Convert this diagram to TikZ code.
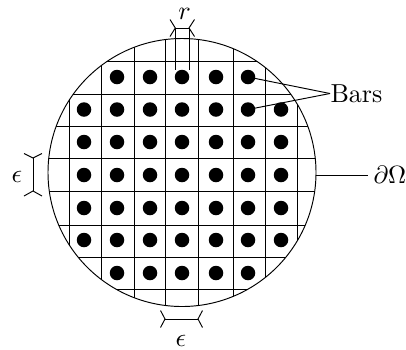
\documentclass[tikz,border=0pt]{standalone}
\tikzset{
  x=1pt,y=-1pt,
  thin line/.style={line width=0.95pt,black},
  bar/.style={circle,fill=black,inner sep=0pt,minimum size=14.5pt},
  lab/.style={inner sep=0pt,scale=2.5,text=black},
  biglab/.style={inner sep=0pt,scale=2.6,text=black},
}
\begin{document}
\begin{tikzpicture}
\useasboundingbox (0,0) rectangle (406,349);
\coordinate (c) at (182,172.5);
\begin{scope}
\clip (c) circle (134);
\foreach \x in {69,101,134,165.5,198,233,265.5,297.7}
  \draw[thin line] (\x,30) -- (\x,315);
\foreach \y in {61,94,126,158,191,225,257,289}
  \draw[thin line] (40,\y) -- (325,\y);
\end{scope}
\node[circle,draw,line width=0.95pt,inner sep=0pt,minimum size=268pt] (dom) at (c) {};
\foreach \y/\r in {77/1,109.5/2,142/3,175/4,208/5,240/6,273/7}
  \foreach \x/\k in {84/1,117/2,150/3,182/4,216/5,248/6,281/7}{
    \pgfmathtruncatemacro{\barshown}{((\r==1||\r==7)&&(\k==1||\k==7))?0:1}
    \ifnum\barshown=1
      \node[bar] (d\r\k) at (\x,\y) {};
    \fi
  }
\node[biglab,anchor=west] (bars) at (330,93.5) {Bars};
\node[lab,anchor=west] (bd) at (373,175) {$\partial\Omega$};
\draw[thin line] (d16.center) -- (bars.west);
\draw[thin line] (d26.center) -- (bars.west);
\coordinate (ob) at (316,175);
\coordinate (bdl) at (368,175);
\draw[thin line] (ob) -- (bdl);
% r
\node[biglab] (rl) at (184.5,14) {$r$};
\coordinate (ra) at (175.3,28); \coordinate (rb) at (189,28);
\draw[thin line] (175.3,69.5) -- (ra) -- (rb) -- (189,69.5);
\draw[thin line] (170,19.5) -- (ra) -- (170,36.5);
\draw[thin line] (194.5,19.5) -- (rb) -- (194.5,36.5);
% left epsilon
\node[biglab] (el) at (17,177) {$\epsilon$};
\coordinate (la) at (33,158); \coordinate (lb) at (33,191);
\draw[thin line] (la) -- (lb);
\draw[thin line] (24,153.5) -- (la) -- (42,153.5);
\draw[thin line] (24,196) -- (lb) -- (42,196);
% bottom epsilon
\node[biglab] (eb) at (181,341) {$\epsilon$};
\coordinate (ba) at (165,319); \coordinate (bb) at (198,319);
\draw[thin line] (ba) -- (bb);
\draw[thin line] (160.5,310.5) -- (ba) -- (160.5,327.5);
\draw[thin line] (202.5,310.5) -- (bb) -- (202.5,327.5);
\end{tikzpicture}
\end{document}
